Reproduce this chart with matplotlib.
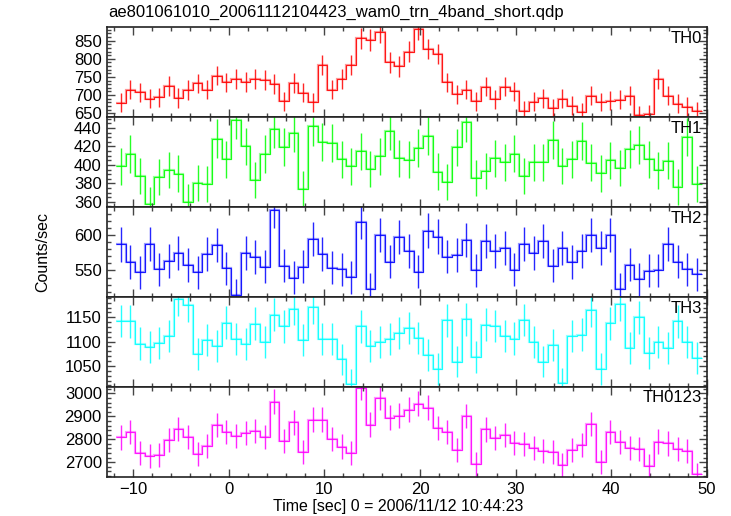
import numpy as np
import matplotlib
matplotlib.use("Agg")
import matplotlib.pyplot as plt
from matplotlib.ticker import MultipleLocator

plt.rcParams['font.family'] = ['Liberation Sans', 'DejaVu Sans']

title = "ae801061010_20061112104423_wam0_trn_4band_short.qdp"
xlabel = "Time [sec] 0 = 2006/11/12 10:44:23"
ylabel = "Counts/sec"
band_names = ["TH0", "TH1", "TH2", "TH3", "TH0123"]
colors = ["#ff0000", "#00ff00", "#0000ff", "#00ffff", "#ff00ff"]

t_start = -11.78   # left edge of first 1-s bin
bin_width = 1.0035

th0 = [679, 715, 708, 690, 694, 725, 692, 714, 732, 715, 754, 735, 744, 737, 745, 742,
       731, 683, 734, 707, 680, 782, 715, 744, 783, 857, 852, 874, 790, 779, 820, 882,
       827, 813, 735, 702, 715, 683, 723, 688, 723, 710, 657, 682, 691, 664, 690, 671,
       653, 698, 681, 685, 687, 698, 644, 647, 745, 698, 676, 668, 655]
th1 = [398.4, 411.7, 387.7, 357.5, 386.6, 394.5, 390.5, 360.3, 380, 379, 428.6, 406,
       449, 420, 383.7, 411.7, 439.3, 419.2, 434.6, 374.3, 441.8, 425, 424, 406, 398.4,
       414.6, 395.5, 409.2, 436.8, 407.4, 405.5, 418.3, 431, 392.6, 381.5, 419, 446.5,
       386.2, 393.4, 407, 402.7, 412.4, 387.7, 402.7, 402.7, 427.5, 398.8, 406, 426.4,
       402.3, 390.9, 405.2, 396.6, 417.4, 421.4, 406, 394.2, 404.5, 375.8, 430, 379.4]
th2 = [586.9, 562.2, 547.6, 587.4, 551.8, 563, 574.8, 558, 547.6, 572.8, 586, 552.8,
       515.4, 575.2, 568.6, 555.6, 635, 557, 539.8, 555.6, 594.4, 573.4, 553.8, 551.8,
       540.2, 619, 523.4, 600, 562.6, 597.2, 577.3, 548.2, 606.4, 597.6, 569.6, 572.4,
       593, 550, 591.6, 577.6, 581.8, 551, 587.4, 575.2, 591.6, 556.6, 581.2, 561.6,
       577.6, 600, 581.2, 600, 523.8, 558.4, 537.8, 549.6, 550, 587.8, 562.6, 551.4, 544.4]
th3 = [1142.4, 1141.8, 1096.1, 1089.4, 1097.6, 1111.2, 1187.3, 1175.7, 1075.1, 1103,
       1090.8, 1139, 1105, 1095.5, 1137, 1099, 1155.3, 1131.6, 1167.6, 1103, 1170.4,
       1105, 1105, 1063.5, 1012.5, 1131.6, 1090.8, 1099, 1105.7, 1118, 1128.2, 1107.1,
       1073, 1043.9, 1143.9, 1058.8, 1145.9, 1069, 1134.9, 1132.2, 1111.2, 1106.3,
       1144.5, 1099.6, 1058.8, 1093.5, 1014.5, 1111.8, 1114.5, 1164.9, 1043.9, 1137.8,
       1177.8, 1086.7, 1150, 1076.5, 1099.6, 1087.3, 1141.8, 1099, 1066.3]
th0123 = [2808, 2831.7, 2742, 2726, 2730.8, 2796.6, 2845, 2810, 2735, 2771.6, 2862.5,
          2833, 2814, 2828.7, 2837.5, 2810, 2963.5, 2792, 2874, 2745, 2885.8, 2885.8,
          2801, 2768.5, 2741, 3025, 2863.8, 2981, 2894.6, 2903, 2929.7, 2955, 2938.5,
          2849.3, 2831.7, 2752.7, 2902, 2691, 2843, 2806.8, 2818.6, 2783.4, 2780.4,
          2761.5, 2748.3, 2745.3, 2686.8, 2752.7, 2774.7, 2867, 2701.3, 2831.7, 2789,
          2762.8, 2757, 2682.5, 2790.5, 2781.8, 2758.4, 2751, 2647]

series = [th0, th1, th2, th3, th0123]
ylims = [(639, 887), (354.3, 451.8), (512.6, 639.6), (1007, 1192), (2637, 3029)]
ymajor = [50, 20, 50, 50, 100]
yminor = [10, 5, 10, 10, 20]

fig = plt.figure(figsize=(7.31, 5.16), dpi=100)
left, right = 106.7 / 731, 707 / 731
top, bottom = 1 - 27.3 / 516, 1 - 476.7 / 516
h = (top - bottom) / 5

for k in range(5):
    vals = np.array(series[k], dtype=float)
    n = len(vals)
    edges = t_start + bin_width * np.arange(n + 1)
    centers = 0.5 * (edges[:-1] + edges[1:])
    err = np.sqrt(vals)
    ax = fig.add_axes([left, top - (k + 1) * h, right - left, h])
    ax.stairs(vals, edges, color=colors[k], linewidth=1.6, alpha=0.4, baseline=None)
    ax.stairs(vals, edges, color=colors[k], linewidth=0.8, alpha=0.85, baseline=None)
    ax.errorbar(centers, vals, yerr=err, fmt='none', ecolor=colors[k], elinewidth=1.0,
                capsize=0, alpha=0.85)
    ax.set_xlim(-12.75, 50)
    ax.set_ylim(*ylims[k])
    ax.xaxis.set_major_locator(MultipleLocator(10))
    ax.xaxis.set_minor_locator(MultipleLocator(2))
    ax.yaxis.set_major_locator(MultipleLocator(ymajor[k]))
    ax.yaxis.set_minor_locator(MultipleLocator(yminor[k]))
    ax.tick_params(which='both', direction='in', top=True, right=True, width=1.0,
                   color='#444444', labelsize=12)
    ax.tick_params(which='major', length=6)
    ax.tick_params(which='minor', length=3)
    for sp in ax.spines.values():
        sp.set_linewidth(1.2)
        sp.set_color('#222222')
    if k < 4:
        ax.tick_params(labelbottom=False)
    ax.text(0.992, 0.96, band_names[k], transform=ax.transAxes, ha='right', va='top',
            fontsize=12)

fig.text(108 / 731, 1 - 12 / 516, title, ha='left', va='center', fontsize=12)
fig.text(398 / 731, 1 - 507 / 516, xlabel, ha='center', va='center', fontsize=11.5)
fig.text(43 / 731, 1 - 252 / 516, ylabel, ha='center', va='center', rotation=90,
         fontsize=11.5)

fig.savefig("out.png", dpi=100)
